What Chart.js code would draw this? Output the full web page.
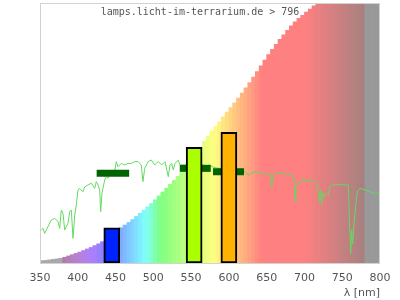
<!DOCTYPE html>
<html>
<head>
<meta charset="utf-8">
<script src="https://cdn.jsdelivr.net/npm/chart.js@4.4.1/dist/chart.umd.min.js"></script>
<style>
  html, body { margin: 0; padding: 0; background: #fff; }
  #wrap { width: 400px; height: 300px; }
</style>
</head>
<body>
<div id="wrap"><canvas id="lampChart"></canvas></div>
<script>
// background: 5 nm bins, first centre 352.5 nm, height in % of plot
const bgStart = 352.5;
const bgStep = 5;
const bgVal = [
  0.9, 1.0, 1.2, 1.4, 1.6, 1.8, 2.2, 2.7, 3.2, 3.7,
  4.2, 4.8, 5.4, 6.0, 6.7, 7.4, 8.2, 9.2, 10.2, 11.3,
  12.4, 13.6, 14.6, 15.6, 16.7, 17.9, 19.1, 20.3, 21.6, 22.9,
  24.3, 25.8, 27.3, 28.8, 30.3, 31.8, 33.3, 34.8, 36.5, 38.5,
  40.5, 42.6, 44.7, 46.8, 48.8, 50.8, 52.6, 54.3, 56.2, 58.0,
  59.8, 61.6, 63.4, 65.4, 67.4, 69.4, 71.5, 73.6, 75.8, 78.0,
  80.2, 82.2, 84.1, 86.0, 87.8, 89.5, 91.2, 92.8, 94.1, 95.3,
  96.5, 97.7, 98.9, 100.1, 101.3, 102.5, 103.7, 104.8, 105.9, 107.0,
  108.0, 109.0, 110.0, 111.0, 112.0, 112.9, 113.8, 114.7, 115.6, 116.5
];

// measured lamp spectrum
const specWl = [
  351.7, 354, 356.2, 360.6, 365, 369.5, 373.8, 376, 378.2, 380.4,
  382.7, 387, 389.3, 391.4, 393.7, 396, 398, 400.3, 402.5, 406.9,
  409.2, 413.5, 417.9, 422.4, 424.5, 426.8, 429, 430.3, 432, 435.6,
  437.8, 440, 444.4, 448, 451, 453.2, 457.6, 462.1, 466.5, 470.8,
  475.3, 479.7, 484, 486.3, 488.6, 493, 497.3, 501.8, 504, 506.6,
  511, 515.4, 519.8, 522, 524.3, 526.4, 528.7, 533, 535.3, 539.3,
  545, 552, 560, 566.1, 569.7, 573.7, 579, 584.3, 592, 600,
  608, 614.7, 621.3, 625.7, 630.2, 634.6, 638.9, 643.4, 647.8, 652.2,
  654.4, 655.7, 656.6, 658.8, 663.3, 669.9, 676.5, 683.1, 686.2, 687.5,
  688.8, 691.9, 696.4, 698.5, 700.7, 705.1, 709.6, 714, 716.2, 718.3,
  719.7, 721.5, 722.8, 724.1, 725.9, 729.4, 731.6, 733.8, 736, 740.4,
  744.8, 751.4, 758, 759.4, 761.2, 762.6, 763.8, 765.6, 768.2, 770,
  773.5, 780.2, 786.8, 791.2, 795.6, 800
];
const specVal = [
  12.7, 13.3, 11.4, 14.0, 16.5, 17.2, 15.9, 13.3, 20.4, 19.1,
  12.7, 15.3, 19.7, 20.4, 9.5, 18.5, 22.3, 28.1, 28.7, 27.4,
  29.3, 30.0, 30.7, 28.7, 31.3, 30.0, 28.1, 19.7, 26.8, 31.9,
  33.2, 32.6, 34.5, 33.8, 39.0, 37.0, 38.3, 37.7, 38.3, 38.3,
  39.0, 39.0, 37.7, 31.3, 36.4, 39.0, 39.6, 37.7, 38.3, 39.0,
  37.7, 39.0, 33.2, 37.7, 38.3, 35.8, 38.3, 39.6, 37.7, 37.7,
  37.8, 38.0, 37.8, 37.7, 37.3, 37.7, 36.9, 36.5, 36.3, 36.0,
  35.8, 35.8, 35.1, 33.8, 34.5, 35.1, 34.5, 35.1, 34.5, 33.8,
  34.5, 30.0, 29.3, 33.8, 34.5, 34.7, 34.2, 33.8, 33.2, 23.6,
  29.3, 30.7, 31.3, 32.6, 31.3, 31.9, 31.9, 31.3, 30.7, 27.4,
  23.6, 28.1, 22.3, 26.8, 25.5, 26.8, 26.2, 29.3, 30.0, 30.0,
  30.3, 30.0, 30.0, 17.8, 3.5, 12.7, 7.5, 15.3, 23.0, 27.4,
  28.7, 28.1, 27.4, 26.8, 26.8, 26.8
];

// dark green band markers
const segFrom = [425, 535, 579];
const segTo = [468, 576, 620];
const segVal = [34.5, 36.4, 35.1];

// LED bars
const ledWl = [445, 554, 600];
const ledVal = [13.5, 44.5, 50.3];
const ledColors = ['#0022ff', '#aaff00', '#ffb300'];

const xTicks = [350, 400, 450, 500, 550, 600, 650, 700, 750, 800];

function wlColor(w) {
  if (w < 380) return '#aca7ac';
  if (w > 780) return '#999999';
  let r = 0, g = 0, b = 0;
  if (w < 440) { r = (440 - w) / 60; b = 1; }
  else if (w < 490) { g = (w - 440) / 50; b = 1; }
  else if (w < 510) { g = 1; b = (510 - w) / 20; }
  else if (w < 580) { r = (w - 510) / 70; g = 1; }
  else if (w < 645) { r = 1; g = (645 - w) / 65; }
  else { r = 1; }
  let f = 1;
  if (w < 420) f = 0.3 + 0.7 * (w - 380) / 40;
  else if (w > 700) f = 0.3 + 0.7 * (780 - w) / 80;
  const c = v => Math.round(255 * (0.5 + 0.5 * v * f));
  return 'rgb(' + c(r) + ',' + c(g) + ',' + c(b) + ')';
}

const bgPoints = bgVal.map((v, i) => ({ x: bgStart + i * bgStep, y: v }));
const bgColors = bgPoints.map(p => wlColor(p.x));

const datasets = [];
datasets.push({
  type: 'bar',
  data: bgPoints,
  backgroundColor: bgColors,
  borderWidth: 0,
  barPercentage: 1,
  categoryPercentage: 1,
  grouped: false,
  xAxisID: 'x',
  order: 4
});
datasets.push({
  type: 'line',
  data: specWl.map((w, i) => ({ x: w, y: specVal[i] })),
  borderColor: '#62da62',
  borderWidth: 1,
  pointRadius: 0,
  tension: 0,
  xAxisID: 'x',
  order: 3
});
segFrom.forEach((a, i) => {
  datasets.push({
    type: 'line',
    data: [{ x: a, y: segVal[i] }, { x: segTo[i], y: segVal[i] }],
    borderColor: '#006400',
    borderWidth: 7,
    borderCapStyle: 'butt',
    pointRadius: 0,
    xAxisID: 'x',
    order: 2
  });
});
datasets.push({
  type: 'bar',
  data: ledWl.map((w, i) => ({ x: w, y: ledVal[i] })),
  backgroundColor: ledColors,
  borderColor: '#000000',
  borderWidth: 2,
  borderSkipped: false,
  barThickness: 16,
  grouped: false,
  xAxisID: 'x2',
  order: 1
});

const framePlugin = {
  id: 'frame',
  afterDatasetsDraw(chart) {
    const { ctx, chartArea: a } = chart;
    ctx.save();
    ctx.strokeStyle = '#d2d2d2';
    ctx.lineWidth = 1;
    ctx.strokeRect(a.left + 0.5, a.top + 0.5, a.width - 1, a.height);
    ctx.fillStyle = '#555555';
    ctx.font = '10px "DejaVu Sans Mono"';
    ctx.textAlign = 'center';
    ctx.textBaseline = 'middle';
    ctx.fillText('lamps.licht-im-terrarium.de > 796', chart.width / 2, 12);
    ctx.restore();
  }
};

new Chart(document.getElementById('lampChart').getContext('2d'), {
  type: 'bar',
  data: { datasets: datasets },
  options: {
    responsive: true,
    maintainAspectRatio: false,
    animation: false,
    layout: { padding: { left: 40, right: 20, top: 3, bottom: 0 } },
    scales: {
      x: {
        type: 'linear',
        min: 350,
        max: 800,
        offset: false,
        grid: { display: false, drawTicks: false },
        border: { display: false },
        afterBuildTicks: axis => { axis.ticks = xTicks.map(v => ({ value: v })); },
        afterFit: axis => { axis.height = 37; },
        ticks: {
          padding: 9,
          maxRotation: 0,
          color: '#555555',
          font: { family: 'DejaVu Sans', size: 11 }
        },
        title: {
          display: true,
          text: 'λ [nm]',
          align: 'end',
          color: '#555555',
          padding: { top: 2, bottom: 0 },
          font: { family: 'DejaVu Sans', size: 11 }
        }
      },
      x2: {
        type: 'linear',
        min: 350,
        max: 800,
        offset: false,
        display: false
      },
      y: {
        min: 0,
        max: 100,
        display: false
      }
    },
    plugins: {
      legend: { display: false },
      tooltip: { enabled: false }
    }
  },
  plugins: [framePlugin]
});
</script>
</body>
</html>
